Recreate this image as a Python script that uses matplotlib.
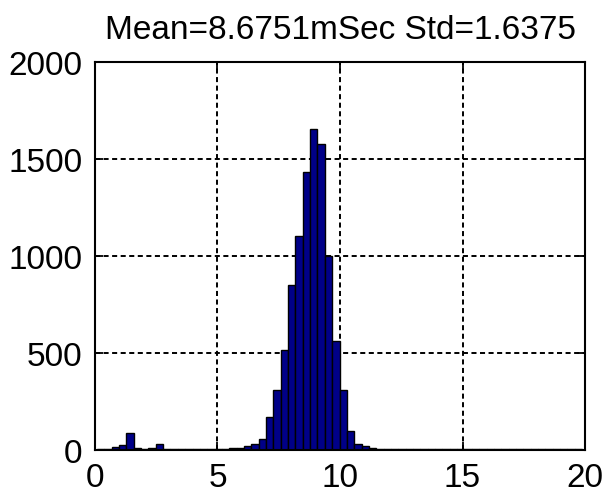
import matplotlib
matplotlib.use("Agg")
import matplotlib.pyplot as plt
import numpy as np

plt.rcParams['font.family'] = ['Liberation Sans', 'DejaVu Sans']

# Histogram of latencies (mSec): bins of width 0.3 starting at 0.08
bin_start = 0.08
bin_width = 0.3
counts = [
    4, 6, 18, 27, 90, 8, 6, 8, 30, 7,
    5, 4, 4, 5, 4, 5, 4, 6, 8, 12,
    20, 30, 57, 168, 309, 517, 850, 1101, 1435, 1655,
    1577, 1001, 563, 307, 100, 31, 20, 10, 6, 5,
    5, 4, 5, 6, 4, 5, 5, 4, 5, 6,
    4, 5, 5, 4, 6, 5, 4, 5, 5, 4,
    6, 5, 4, 5, 5, 4,
]
title_text = "Mean=8.6751mSec Std=1.6375"
x_ticks = [0, 5, 10, 15, 20]
y_ticks = [0, 500, 1000, 1500, 2000]

counts = np.array(counts)
centers = bin_start + bin_width * (np.arange(len(counts)) + 0.5)

fig = plt.figure(figsize=(6.05, 5.02), dpi=100)
ax = fig.add_axes([0.157, 0.1016, 0.81, 0.7729])

ax.bar(centers, counts, width=bin_width, color='#000088',
       edgecolor='black', linewidth=1.0, zorder=2)

ax.set_xlim(0, 20)
ax.set_ylim(0, 2000)
ax.set_xticks(x_ticks)
ax.set_yticks(y_ticks)

ax.set_axisbelow(True)
ax.grid(True, color='black', linestyle=(0, (2.6, 1.8)), linewidth=1.4)

for s in ax.spines.values():
    s.set_linewidth(1.5)
    s.set_zorder(3)

ax.tick_params(direction='in', length=6, width=1.3, top=True, right=True,
               labelsize=24, pad=9)
ax.set_title(title_text, fontsize=24, pad=17)

fig.savefig("out.png", dpi=100, facecolor='white')
